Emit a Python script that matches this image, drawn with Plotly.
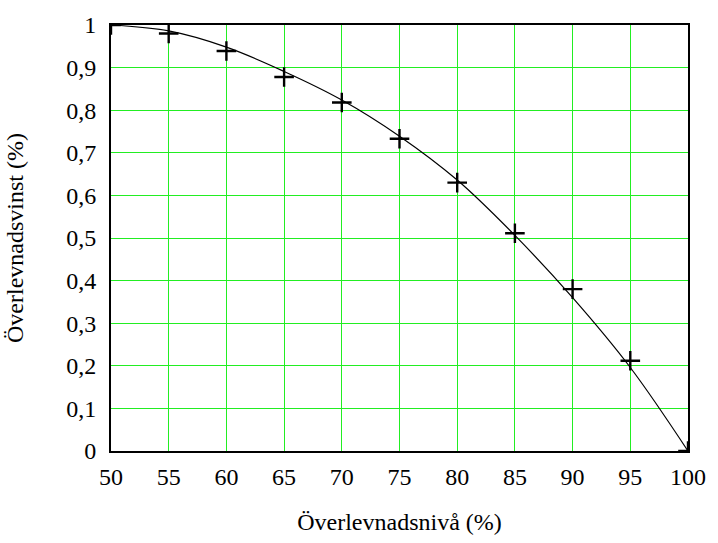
import plotly.graph_objects as go

# Data
levels = [50, 55, 60, 65, 70, 75, 80, 85, 90, 95, 100]
measured_gain = [1.0, 0.980, 0.939, 0.878, 0.818, 0.733, 0.630, 0.511, 0.380, 0.212, 0.0]
curve_gain = [1.0, 0.986, 0.948, 0.891, 0.824, 0.739, 0.636, 0.506, 0.360, 0.196, 0.0]

x_ticks = [50, 55, 60, 65, 70, 75, 80, 85, 90, 95, 100]
y_ticks = [0, 0.1, 0.2, 0.3, 0.4, 0.5, 0.6, 0.7, 0.8, 0.9, 1.0]
y_tick_labels = ["0", "0,1", "0,2", "0,3", "0,4", "0,5", "0,6", "0,7", "0,8", "0,9", "1"]

FONT = "Liberation Serif"
GRID = "#22ee22"

fig = go.Figure()
fig.add_trace(go.Scatter(
    x=levels, y=curve_gain, mode="lines",
    line=dict(color="black", width=1.2, shape="spline", smoothing=1.0),
    showlegend=False, hoverinfo="skip",
))
fig.add_trace(go.Scatter(
    x=levels, y=measured_gain, mode="markers",
    marker=dict(symbol="cross-thin", size=14, line=dict(color="black", width=2.4), color="black"),
    cliponaxis=True, showlegend=False,
))

fig.update_layout(
    width=718, height=543,
    margin=dict(l=111, r=24, t=16, b=84),
    paper_bgcolor="white", plot_bgcolor="white",
    font=dict(family=FONT, size=24, color="black"),
    xaxis=dict(
        range=[50, 100], tickvals=x_ticks, ticktext=[str(v) for v in x_ticks],
        showgrid=True, gridcolor=GRID, gridwidth=1,
        showline=True, linecolor="black", linewidth=2, mirror=True,
        ticks="", ticklen=0, zeroline=False, ticklabelstandoff=3,
        tickfont=dict(family=FONT, size=24),
        title=dict(text="Överlevnadsnivå (%)", font=dict(family=FONT, size=24), standoff=24),
    ),
    yaxis=dict(
        range=[0, 1], tickvals=y_ticks, ticktext=y_tick_labels,
        showgrid=True, gridcolor=GRID, gridwidth=1,
        showline=True, linecolor="black", linewidth=2, mirror=True,
        ticks="", ticklen=0, zeroline=False, ticklabelstandoff=8,
        tickfont=dict(family=FONT, size=24),
        title=dict(text="Överlevnadsvinst (%)", font=dict(family=FONT, size=24), standoff=36),
    ),
)

fig.write_html("out.html", config={"displayModeBar": False},
               post_script="document.body.style.margin='0px';")
